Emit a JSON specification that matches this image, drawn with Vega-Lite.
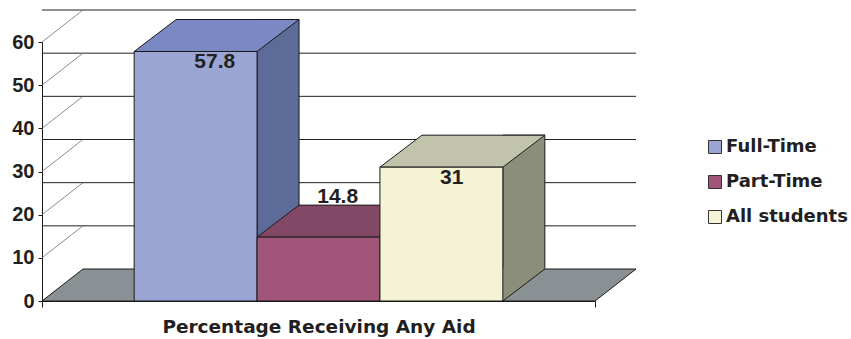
{
  "$schema": "https://vega.github.io/schema/vega-lite/v6.json",
  "width": 553,
  "height": 259,
  "autosize": {"type": "none"},
  "padding": {"left": 42, "top": 42, "right": 256, "bottom": 38},
  "background": "white",
  "datasets": {
    "aid": [
      {"category": "Percentage Receiving Any Aid", "group": "Full-Time", "value": 57.8},
      {"category": "Percentage Receiving Any Aid", "group": "Part-Time", "value": 14.8},
      {"category": "Percentage Receiving Any Aid", "group": "All students", "value": 31}
    ],
    "ticks": [{"v": 10}, {"v": 20}, {"v": 30}, {"v": 40}, {"v": 50}, {"v": 60}]
  },
  "layer": [
    {
      "description": "back wall gridlines",
      "data": {"name": "ticks"},
      "mark": {"type": "rule", "color": "#231F20", "strokeWidth": 1, "xOffset": 41, "x2Offset": 41, "yOffset": -32},
      "encoding": {
        "y": {"field": "v", "type": "quantitative", "scale": {"domain": [0, 60], "nice": false}, "title": null}
      }
    },
    {
      "description": "side wall depth lines",
      "data": {"name": "ticks"},
      "mark": {"type": "rule", "color": "#6e6e6e", "strokeWidth": 0.8, "y2Offset": -32},
      "encoding": {
        "x": {"value": 0},
        "x2": {"value": 41},
        "y": {"field": "v", "type": "quantitative", "scale": {"domain": [0, 60], "nice": false}, "title": null},
        "y2": {"field": "v"}
      }
    },
    {
      "description": "floor, carrying the category axis",
      "data": {"name": "aid"},
      "transform": [{"filter": "datum.group === 'Full-Time'"}],
      "mark": {
        "type": "point",
        "shape": "M-276.5,0 L276.5,0 L317.5,-32 L-235.5,-32 Z",
        "size": 4,
        "filled": true,
        "fill": "#8A9195",
        "stroke": "#1a1a1a",
        "strokeWidth": 1,
        "opacity": 1
      },
      "encoding": {
        "x": {
          "field": "category",
          "type": "nominal",
          "scale": {"paddingInner": 0, "paddingOuter": 0},
          "title": null,
          "axis": {"tickBand": "extent", "tickSize": 6, "labelPadding": 10, "labelAngle": 0, "labelLimit": 0}
        },
        "y": {"datum": 0, "type": "quantitative", "scale": {"domain": [0, 60], "nice": false}, "title": null}
      }
    },
    {
      "resolve": {"scale": {"fill": "independent"}},
      "data": {"name": "aid"},
      "layer": [
        {
          "description": "side faces",
          "mark": {"type": "bar", "width": 42, "xOffset": 82.44, "yOffset": -32, "y2Offset": -32, "stroke": "#1a1a1a", "strokeWidth": 1},
          "encoding": {
            "x": {"field": "group", "type": "nominal", "sort": ["Full-Time", "Part-Time", "All students"], "scale": {"paddingInner": 0, "paddingOuter": 0.75}, "axis": null},
            "y": {"field": "value", "type": "quantitative", "scale": {"domain": [0, 60], "nice": false}, "title": null},
            "y2": {"datum": 0},
            "fill": {"field": "group", "type": "nominal", "scale": {"domain": ["Full-Time", "Part-Time", "All students"], "range": ["#5D6B98", "#6E3B55", "#8A8E7A"]}, "legend": null}
          }
        },
        {
          "description": "lower part of side faces",
          "mark": {"type": "point", "shape": "M61.44,0 L61.44,-33 L103.44,-33 L103.44,-32 Z", "size": 4, "filled": true, "strokeWidth": 0, "opacity": 1},
          "encoding": {
            "x": {"field": "group", "type": "nominal", "sort": ["Full-Time", "Part-Time", "All students"], "scale": {"paddingInner": 0, "paddingOuter": 0.75}, "axis": null},
            "y": {"datum": 0, "type": "quantitative", "scale": {"domain": [0, 60], "nice": false}, "title": null},
            "fill": {"field": "group", "type": "nominal", "scale": {"domain": ["Full-Time", "Part-Time", "All students"], "range": ["#5D6B98", "#6E3B55", "#8A8E7A"]}, "legend": null}
          }
        },
        {
          "description": "bottom edge of side faces",
          "mark": {"type": "point", "shape": "M61.44,0 L103.44,-32", "size": 4, "filled": false, "stroke": "#1a1a1a", "strokeWidth": 1, "opacity": 1},
          "encoding": {
            "x": {"field": "group", "type": "nominal", "sort": ["Full-Time", "Part-Time", "All students"], "scale": {"paddingInner": 0, "paddingOuter": 0.75}, "axis": null},
            "y": {"datum": 0, "type": "quantitative", "scale": {"domain": [0, 60], "nice": false}, "title": null}
          }
        },
        {
          "description": "top faces",
          "mark": {"type": "point", "shape": "M-61.44,0 L61.44,0 L103.44,-32 L-19.44,-32 Z", "size": 4, "filled": true, "stroke": "#1a1a1a", "strokeWidth": 1, "opacity": 1},
          "encoding": {
            "x": {"field": "group", "type": "nominal", "sort": ["Full-Time", "Part-Time", "All students"], "scale": {"paddingInner": 0, "paddingOuter": 0.75}, "axis": null},
            "y": {"field": "value", "type": "quantitative", "scale": {"domain": [0, 60], "nice": false}, "title": null},
            "fill": {"field": "group", "type": "nominal", "scale": {"domain": ["Full-Time", "Part-Time", "All students"], "range": ["#7A88C4", "#834866", "#C1C3AB"]}, "legend": null}
          }
        },
        {
          "description": "front faces",
          "mark": {"type": "bar", "stroke": "#1a1a1a", "strokeWidth": 1},
          "encoding": {
            "x": {"field": "group", "type": "nominal", "sort": ["Full-Time", "Part-Time", "All students"], "scale": {"paddingInner": 0, "paddingOuter": 0.75}, "axis": null},
            "y": {"field": "value", "type": "quantitative", "scale": {"domain": [0, 60], "nice": false}, "title": null},
            "color": {
              "field": "group",
              "type": "nominal",
              "scale": {"domain": ["Full-Time", "Part-Time", "All students"], "range": ["#9AA5D3", "#A05579", "#F4F3D6"]},
              "legend": {
                "title": null,
                "orient": "none",
                "legendX": 664,
                "legendY": 96,
                "padding": 0,
                "symbolType": "square",
                "symbolSize": 169,
                "symbolStrokeColor": "#333333",
                "symbolStrokeWidth": 1,
                "labelFont": "DejaVu Sans",
                "labelFontWeight": "bold",
                "labelFontSize": 18,
                "labelColor": "#231F20",
                "labelOffset": 2,
                "labelLimit": 0,
                "rowPadding": 17
              }
            }
          }
        },
        {
          "description": "value labels on the front faces",
          "transform": [{"filter": "datum.value >= 20"}],
          "mark": {"type": "text", "align": "left", "baseline": "alphabetic", "dx": -1.3, "dy": 16.5, "font": "Liberation Sans", "fontWeight": "bold", "fontSize": 21, "color": "#231F20"},
          "encoding": {
            "x": {"field": "group", "type": "nominal", "sort": ["Full-Time", "Part-Time", "All students"], "scale": {"paddingInner": 0, "paddingOuter": 0.75}, "axis": null},
            "y": {"field": "value", "type": "quantitative", "scale": {"domain": [0, 60], "nice": false}, "title": null},
            "text": {"field": "value", "type": "quantitative"}
          }
        },
        {
          "description": "value label above a short bar",
          "transform": [{"filter": "datum.value < 20"}],
          "mark": {"type": "text", "align": "left", "baseline": "alphabetic", "dx": -1.3, "dy": -34, "font": "Liberation Sans", "fontWeight": "bold", "fontSize": 21, "color": "#231F20"},
          "encoding": {
            "x": {"field": "group", "type": "nominal", "sort": ["Full-Time", "Part-Time", "All students"], "scale": {"paddingInner": 0, "paddingOuter": 0.75}, "axis": null},
            "y": {"field": "value", "type": "quantitative", "scale": {"domain": [0, 60], "nice": false}, "title": null},
            "text": {"field": "value", "type": "quantitative"}
          }
        }
      ]
    }
  ],
  "resolve": {"scale": {"x": "independent"}},
  "config": {
    "view": {"stroke": null},
    "axisX": {
      "domainColor": "#1a1a1a",
      "tickColor": "#1a1a1a",
      "labelFont": "DejaVu Sans",
      "labelFontWeight": "bold",
      "labelFontSize": 18.5,
      "labelColor": "#231F20",
      "grid": false
    },
    "axisY": {
      "values": [0, 10, 20, 30, 40, 50, 60],
      "grid": false,
      "domainColor": "#1a1a1a",
      "tickColor": "#1a1a1a",
      "tickSize": 4,
      "labelPadding": 4,
      "labelFont": "Liberation Sans",
      "labelFontWeight": "bold",
      "labelFontSize": 20,
      "labelColor": "#231F20"
    }
  }
}
